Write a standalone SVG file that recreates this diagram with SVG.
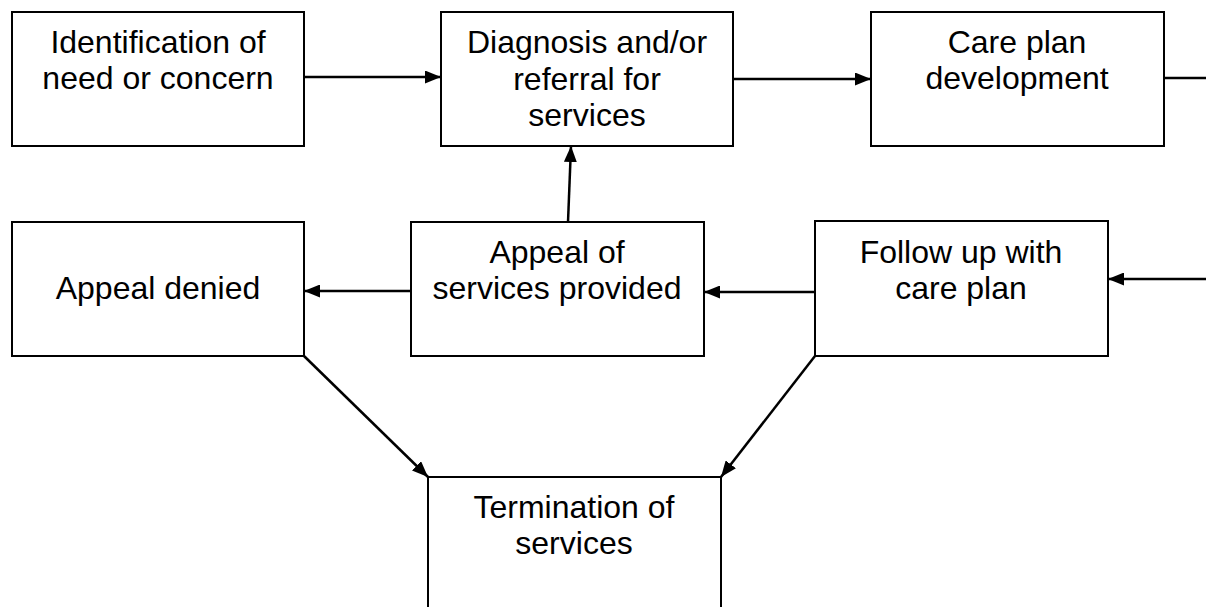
<svg xmlns="http://www.w3.org/2000/svg" width="1206" height="607" viewBox="0 0 1206 607">
<style>
.box{fill:#fff;stroke:#000;stroke-width:2}
.t{font-family:"Liberation Sans",Arial,sans-serif;font-size:32px;fill:#000;text-anchor:middle}
.c{stroke:#000;stroke-width:2.5;fill:none}
</style>
<defs>
<marker id="ah" viewBox="0 0 16 13" refX="16" refY="6.5" markerWidth="16" markerHeight="13" markerUnits="userSpaceOnUse" orient="auto">
<path d="M0,0 L16,6.5 L0,13 Z" fill="#000"/>
</marker>
</defs>
<rect width="1206" height="607" fill="#fff"/>
<g id="connectors">
<line class="c" x1="304" y1="77" x2="441" y2="77" marker-end="url(#ah)"/>
<line class="c" x1="733" y1="79" x2="871" y2="79" marker-end="url(#ah)"/>
<line class="c" x1="1164" y1="78" x2="1206" y2="78"/>
<line class="c" x1="1206" y1="279" x2="1108" y2="279" marker-end="url(#ah)"/>
<line class="c" x1="815" y1="292" x2="704" y2="292" marker-end="url(#ah)"/>
<line class="c" x1="411" y1="291" x2="304" y2="291" marker-end="url(#ah)"/>
<line class="c" x1="568" y1="222" x2="571" y2="146" marker-end="url(#ah)"/>
<line class="c" x1="304" y1="356" x2="428" y2="477" marker-end="url(#ah)"/>
<line class="c" x1="815" y1="356" x2="721" y2="477" marker-end="url(#ah)"/>
</g>
<g id="n1"><rect class="box" x="12" y="12" width="292" height="134"/><text class="t" x="158" y="53">Identification of</text><text class="t" x="158" y="89">need or concern</text></g>
<g id="n2"><rect class="box" x="441" y="12" width="292" height="134"/><text class="t" x="587" y="53">Diagnosis and/or</text><text class="t" x="587" y="90">referral for</text><text class="t" x="587" y="126">services</text></g>
<g id="n3"><rect class="box" x="871" y="12" width="293" height="134"/><text class="t" x="1017" y="53">Care plan</text><text class="t" x="1017" y="89">development</text></g>
<g id="n4"><rect class="box" x="815" y="221" width="293" height="135"/><text class="t" x="961" y="263">Follow up with</text><text class="t" x="961" y="299">care plan</text></g>
<g id="n5"><rect class="box" x="411" y="222" width="293" height="134"/><text class="t" x="557" y="263">Appeal of</text><text class="t" x="557" y="299">services provided</text></g>
<g id="n6"><rect class="box" x="12" y="222" width="292" height="134"/><text class="t" x="158" y="299">Appeal denied</text></g>
<g id="n7"><rect class="box" x="428" y="477" width="293" height="140"/><text class="t" x="574" y="518">Termination of</text><text class="t" x="574" y="554">services</text></g>
</svg>
